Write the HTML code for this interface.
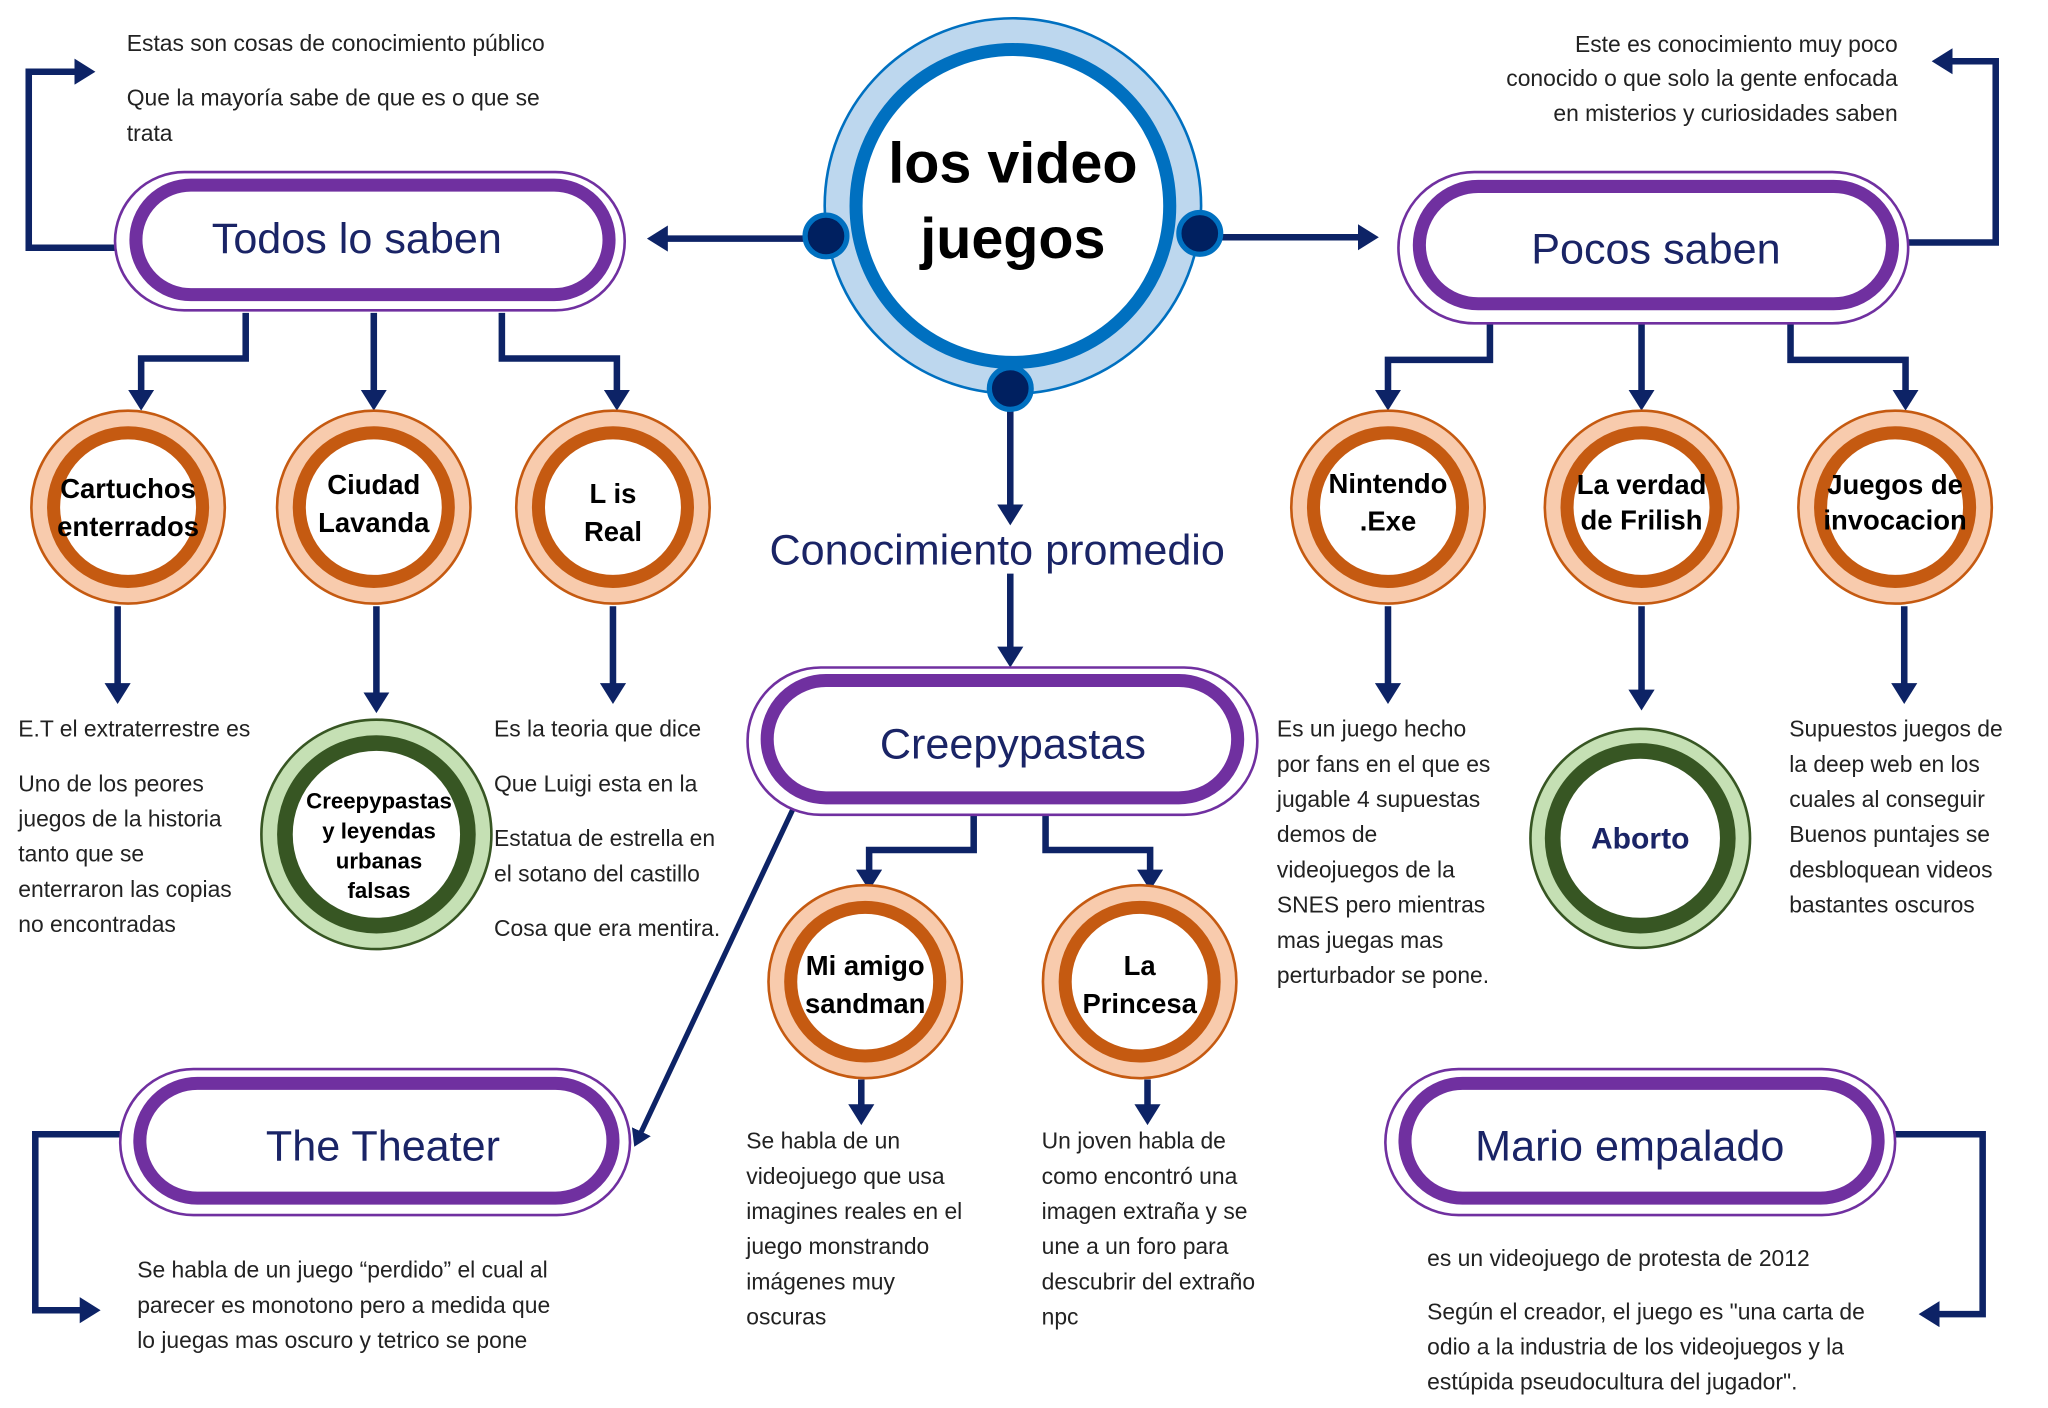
<!DOCTYPE html>
<html><head><meta charset="utf-8"><style>
html,body{margin:0;padding:0;background:#fff;}
svg{display:block;}
.t{font-family:"Liberation Sans",sans-serif;font-size:17.5px;fill:#222;}
.h{font-family:"Liberation Sans",sans-serif;font-size:33px;fill:#1a2466;text-anchor:middle;}
.c{font-family:"Liberation Sans",sans-serif;font-size:21px;font-weight:bold;fill:#000;text-anchor:middle;}
.ln{stroke:#0d2366;stroke-width:5;fill:none;}
</style></head><body>
<svg width="2048" height="1408" viewBox="0 0 1567 1080" preserveAspectRatio="none" xmlns="http://www.w3.org/2000/svg">
<defs><marker id="a" markerWidth="4" markerHeight="4" refX="2.2" refY="2" orient="auto" markerUnits="strokeWidth"><path d="M0,0 L3.2,2 L0,4 z" fill="#0d2366"/></marker></defs>
<g class="ln">
<path d="M615,183 H500" marker-end="url(#a)"/>
<path d="M935,182 H1050" marker-end="url(#a)"/>
<path d="M773,315 V398" marker-end="url(#a)"/>
<path d="M773,440 V507" marker-end="url(#a)"/>
<path d="M188,240 V275 H108 V310" marker-end="url(#a)"/>
<path d="M286,240 V310" marker-end="url(#a)"/>
<path d="M384,240 V275 H472 V310" marker-end="url(#a)"/>
<path d="M88,190 H22 V55 H68" marker-end="url(#a)"/>
<path d="M1140,242 V276 H1062 V310" marker-end="url(#a)"/>
<path d="M1256,242 V310" marker-end="url(#a)"/>
<path d="M1370,242 V276 H1458 V310" marker-end="url(#a)"/>
<path d="M1460,186 H1527 V47 H1483" marker-end="url(#a)"/>
<path d="M90,465 V535" marker-end="url(#a)"/>
<path d="M288,465 V542" marker-end="url(#a)"/>
<path d="M469,465 V535" marker-end="url(#a)"/>
<path d="M1062,465 V535" marker-end="url(#a)"/>
<path d="M1256,465 V540" marker-end="url(#a)"/>
<path d="M1457,465 V535" marker-end="url(#a)"/>
<path d="M659,828 V858" marker-end="url(#a)"/>
<path d="M878,828 V858" marker-end="url(#a)"/>
<path d="M745,622 V652 H665 V678" marker-end="url(#a)"/>
<path d="M800,622 V652 H880 V678" marker-end="url(#a)"/>
<path d="M607,620 L487,876" stroke-width="4" marker-end="url(#a)"/>
<path d="M92,870 H27 V1005 H72" marker-end="url(#a)"/>
<path d="M1450,870 H1517 V1008 H1473" marker-end="url(#a)"/>
</g>
<circle cx="775" cy="158" r="144" fill="#bdd7ee" stroke="#0070c0" stroke-width="2"/>
<circle cx="775" cy="158" r="120" fill="#fff" stroke="#0070c0" stroke-width="10"/>
<g fill="#002060" stroke="#0070c0" stroke-width="4">
<circle cx="632" cy="181" r="16"/><circle cx="918" cy="179" r="16"/><circle cx="773" cy="298" r="16"/>
</g>
<text x="775" y="140" text-anchor="middle" font-family="Liberation Sans,sans-serif" font-weight="bold" font-size="44" fill="#000">los video</text>
<text x="775" y="198" text-anchor="middle" font-family="Liberation Sans,sans-serif" font-weight="bold" font-size="44" fill="#000">juegos</text>
<g fill="#fff">
<rect x="88" y="132" width="390" height="106" rx="53" stroke="#7030a0" stroke-width="2"/>
<rect x="104" y="142" width="362" height="84" rx="42" stroke="#7030a0" stroke-width="10"/>
<rect x="1070" y="132" width="390" height="116" rx="58" stroke="#7030a0" stroke-width="2"/>
<rect x="1086" y="143" width="362" height="90" rx="45" stroke="#7030a0" stroke-width="10"/>
<rect x="572" y="512" width="390" height="113" rx="56" stroke="#7030a0" stroke-width="2"/>
<rect x="587" y="522" width="360" height="90" rx="45" stroke="#7030a0" stroke-width="10"/>
<rect x="92" y="820" width="390" height="112" rx="56" stroke="#7030a0" stroke-width="2"/>
<rect x="107" y="831" width="362" height="88" rx="44" stroke="#7030a0" stroke-width="10"/>
<rect x="1060" y="820" width="390" height="112" rx="56" stroke="#7030a0" stroke-width="2"/>
<rect x="1075" y="831" width="362" height="88" rx="44" stroke="#7030a0" stroke-width="10"/>
</g>
<text class="h" x="273" y="194">Todos lo saben</text>
<text class="h" x="1267" y="202">Pocos saben</text>
<text class="h" x="775" y="582">Creepypastas</text>
<text class="h" x="293" y="890">The Theater</text>
<text class="h" x="1247" y="890">Mario empalado</text>
<text class="h" x="763" y="433">Conocimiento promedio</text>
<g fill="#fff">
<g stroke="#c55a11">
<circle cx="98" cy="389" r="74" fill="#f8cbad" stroke-width="2"/><circle cx="98" cy="389" r="57" stroke-width="10"/>
<circle cx="286" cy="389" r="74" fill="#f8cbad" stroke-width="2"/><circle cx="286" cy="389" r="57" stroke-width="10"/>
<circle cx="469" cy="389" r="74" fill="#f8cbad" stroke-width="2"/><circle cx="469" cy="389" r="57" stroke-width="10"/>
<circle cx="1062" cy="389" r="74" fill="#f8cbad" stroke-width="2"/><circle cx="1062" cy="389" r="57" stroke-width="10"/>
<circle cx="1256" cy="389" r="74" fill="#f8cbad" stroke-width="2"/><circle cx="1256" cy="389" r="57" stroke-width="10"/>
<circle cx="1450" cy="389" r="74" fill="#f8cbad" stroke-width="2"/><circle cx="1450" cy="389" r="57" stroke-width="10"/>
<circle cx="662" cy="753" r="74" fill="#f8cbad" stroke-width="2"/><circle cx="662" cy="753" r="57" stroke-width="10"/>
<circle cx="872" cy="753" r="74" fill="#f8cbad" stroke-width="2"/><circle cx="872" cy="753" r="57" stroke-width="10"/>
</g>
<g stroke="#375623">
<circle cx="288" cy="640" r="88" fill="#c5e0b4" stroke-width="2"/><circle cx="288" cy="640" r="70" stroke-width="12"/>
<circle cx="1255" cy="643" r="84" fill="#c5e0b4" stroke-width="2"/><circle cx="1255" cy="643" r="67" stroke-width="12"/>
</g>
</g>
<text class="c"><tspan x="98" y="382">Cartuchos</tspan><tspan x="98" y="411">enterrados</tspan></text>
<text class="c"><tspan x="286" y="379">Ciudad</tspan><tspan x="286" y="408">Lavanda</tspan></text>
<text class="c"><tspan x="469" y="386">L is</tspan><tspan x="469" y="415">Real</tspan></text>
<text class="c"><tspan x="1062" y="378">Nintendo</tspan><tspan x="1062" y="407">.Exe</tspan></text>
<text class="c"><tspan x="1256" y="379">La verdad</tspan><tspan x="1256" y="406">de Frilish</tspan></text>
<text class="c"><tspan x="1450" y="379">Juegos de</tspan><tspan x="1450" y="406">invocacion</tspan></text>
<text class="c"><tspan x="662" y="748">Mi amigo</tspan><tspan x="662" y="777">sandman</tspan></text>
<text class="c"><tspan x="872" y="748">La</tspan><tspan x="872" y="777">Princesa</tspan></text>
<text class="c" style="font-size:17px"><tspan x="290" y="620">Creepypastas</tspan><tspan x="290" y="643">y leyendas</tspan><tspan x="290" y="666">urbanas</tspan><tspan x="290" y="689">falsas</tspan></text>
<text class="c" x="1255" y="651" style="fill:#1a2466;font-size:23px">Aborto</text>
<text class="t"><tspan x="97" y="39">Estas son cosas de conocimiento público</tspan><tspan x="97" y="81">Que la mayoría sabe de que es o que se</tspan><tspan x="97" y="108">trata</tspan></text>
<text class="t" text-anchor="end"><tspan x="1452" y="40">Este es conocimiento muy poco</tspan><tspan x="1452" y="66">conocido o que solo la gente enfocada</tspan><tspan x="1452" y="93">en misterios y curiosidades saben</tspan></text>
<text class="t"><tspan x="14" y="565">E.T el extraterrestre es</tspan><tspan x="14" y="607">Uno de los peores</tspan><tspan x="14" y="634">juegos de la historia</tspan><tspan x="14" y="661">tanto que se</tspan><tspan x="14" y="688">enterraron las copias</tspan><tspan x="14" y="715">no encontradas</tspan></text>
<text class="t"><tspan x="378" y="565">Es la teoria que dice</tspan><tspan x="378" y="607">Que Luigi esta en la</tspan><tspan x="378" y="649">Estatua de estrella en</tspan><tspan x="378" y="676">el sotano del castillo</tspan><tspan x="378" y="718">Cosa que era mentira.</tspan></text>
<text class="t"><tspan x="977" y="565">Es un juego hecho</tspan><tspan x="977" y="592">por fans en el que es</tspan><tspan x="977" y="619">jugable 4 supuestas</tspan><tspan x="977" y="646">demos de</tspan><tspan x="977" y="673">videojuegos de la</tspan><tspan x="977" y="700">SNES pero mientras</tspan><tspan x="977" y="727">mas juegas mas</tspan><tspan x="977" y="754">perturbador se pone.</tspan></text>
<text class="t"><tspan x="1369" y="565">Supuestos juegos de</tspan><tspan x="1369" y="592">la deep web en los</tspan><tspan x="1369" y="619">cuales al conseguir</tspan><tspan x="1369" y="646">Buenos puntajes se</tspan><tspan x="1369" y="673">desbloquean videos</tspan><tspan x="1369" y="700">bastantes oscuros</tspan></text>
<text class="t"><tspan x="571" y="881">Se habla de un</tspan><tspan x="571" y="908">videojuego que usa</tspan><tspan x="571" y="935">imagines reales en el</tspan><tspan x="571" y="962">juego monstrando</tspan><tspan x="571" y="989">imágenes muy</tspan><tspan x="571" y="1016">oscuras</tspan></text>
<text class="t"><tspan x="797" y="881">Un joven habla de</tspan><tspan x="797" y="908">como encontró una</tspan><tspan x="797" y="935">imagen extraña y se</tspan><tspan x="797" y="962">une a un foro para</tspan><tspan x="797" y="989">descubrir del extraño</tspan><tspan x="797" y="1016">npc</tspan></text>
<text class="t"><tspan x="105" y="980">Se habla de un juego “perdido” el cual al</tspan><tspan x="105" y="1007">parecer es monotono pero a medida que</tspan><tspan x="105" y="1034">lo juegas mas oscuro y tetrico se pone</tspan></text>
<text class="t"><tspan x="1092" y="971">es un videojuego de protesta de 2012</tspan><tspan x="1092" y="1012">Según el creador, el juego es "una carta de</tspan><tspan x="1092" y="1039">odio a la industria de los videojuegos y la</tspan><tspan x="1092" y="1066">estúpida pseudocultura del jugador".</tspan></text>
</svg>
</body></html>
